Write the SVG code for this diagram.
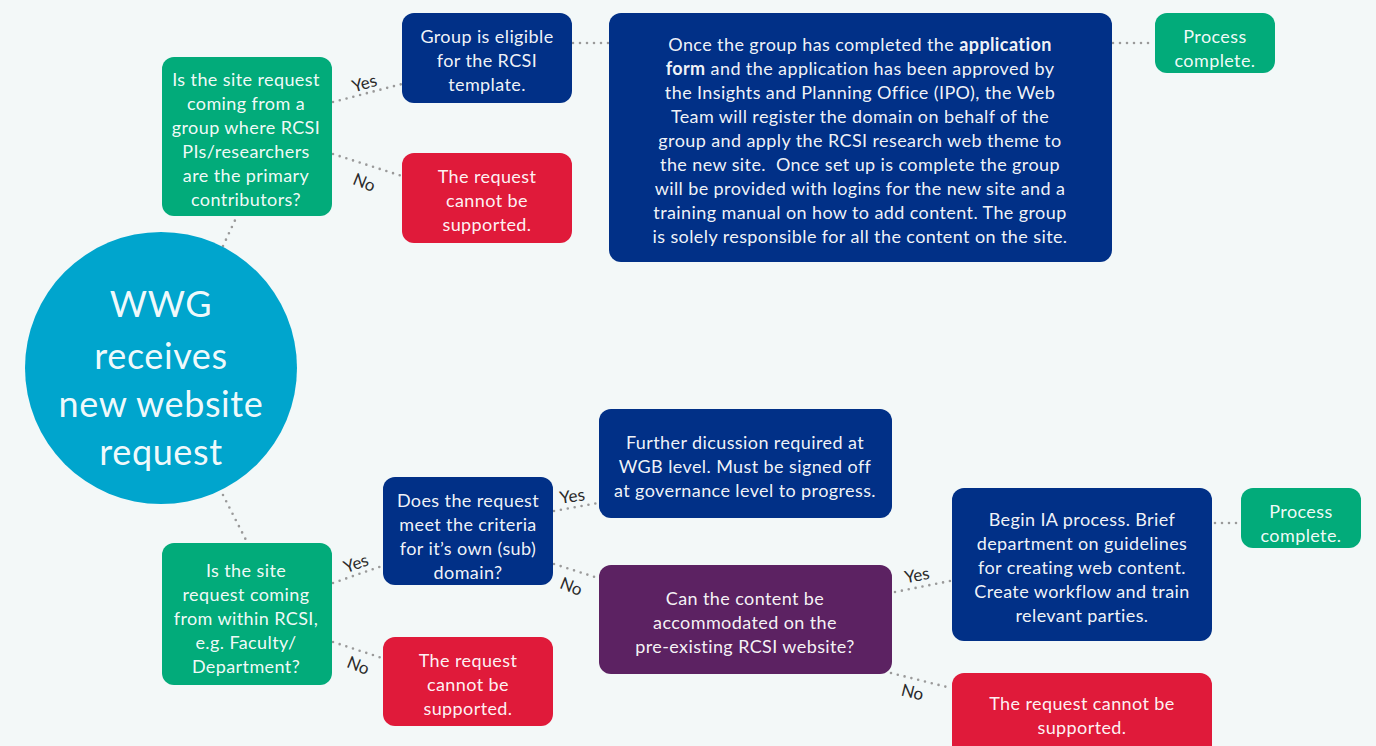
<svg xmlns="http://www.w3.org/2000/svg" width="1376" height="746" viewBox="0 0 1376 746">
<style>
.bg{fill:#f3f8f8}
.green{fill:#02ab7a}
.navy{fill:#013087}
.red{fill:#e01a3a}
.purple{fill:#5c2262}
.circ{fill:#00a5cd}
text{font-family:Lato,"Open Sans","Liberation Sans",sans-serif;fill:#ffffff;fill-opacity:0.96;text-anchor:middle;font-size:18px;letter-spacing:0.4px}
.big{font-size:36px;letter-spacing:0.6px}
.lbl{fill:#2a2a2a;font-size:17px;fill-opacity:1;letter-spacing:0}
.con{stroke:#9a9a9a;stroke-width:2.6;stroke-linecap:round;stroke-dasharray:0 7;fill:none}
</style>
<rect class="bg" x="0" y="0" width="1376" height="746"/>
<g id="connectors">
<path class="con" d="M223,246 L237,216"/>
<path class="con" d="M223,495 L247,542"/>
<path class="con" d="M333,102 L402,84"/>
<path class="con" d="M333,154 L402,176"/>
<path class="con" d="M573,43 L609,43"/>
<path class="con" d="M1113,43 L1155,43"/>
<path class="con" d="M333,583 L382,566"/>
<path class="con" d="M333,642 L382,658"/>
<path class="con" d="M554,511 L598,503"/>
<path class="con" d="M554,564 L598,578"/>
<path class="con" d="M895,592 L950,581"/>
<path class="con" d="M891,673 L951,688"/>
<path class="con" d="M1215,523 L1241,523"/>
<text class="lbl" transform="translate(366,89) rotate(-16)">Yes</text>
<text class="lbl" transform="translate(362,188) rotate(22)">No</text>
<text class="lbl" transform="translate(358,569) rotate(-20)">Yes</text>
<text class="lbl" transform="translate(356,671) rotate(22)">No</text>
<text class="lbl" transform="translate(573,502) rotate(-8)">Yes</text>
<text class="lbl" transform="translate(569,592) rotate(22)">No</text>
<text class="lbl" transform="translate(918,581) rotate(-10)">Yes</text>
<text class="lbl" transform="translate(911,698) rotate(14)">No</text>
</g>
<g id="start">
<circle class="circ" cx="161" cy="368" r="136"/>
<text class="big" x="161" y="317">WWG</text>
<text class="big" x="161" y="369">receives</text>
<text class="big" x="161" y="417">new website</text>
<text class="big" x="161" y="465">request</text>
</g>
<g id="q-researchers">
<rect class="green" x="162" y="57" width="170" height="159" rx="12"/>
<text x="246" y="86">Is the site request</text>
<text x="246" y="110">coming from a</text>
<text x="246" y="134">group where RCSI</text>
<text x="246" y="158">PIs/researchers</text>
<text x="246" y="182">are the primary</text>
<text x="246" y="206">contributors?</text>
</g>
<g id="eligible">
<rect class="navy" x="402" y="13" width="170" height="90" rx="12"/>
<text x="487" y="43">Group is eligible</text>
<text x="487" y="67">for the RCSI</text>
<text x="487" y="91">template.</text>
</g>
<g id="not-supported-1">
<rect class="red" x="402" y="153" width="170" height="90" rx="12"/>
<text x="487" y="183">The request</text>
<text x="487" y="207">cannot be</text>
<text x="487" y="231">supported.</text>
</g>
<g id="application">
<rect class="navy" x="609" y="13" width="503" height="249" rx="12"/>
<text x="860" y="51">Once the group has completed the <tspan font-weight="bold">application</tspan></text>
<text x="860" y="75"><tspan font-weight="bold">form</tspan> and the application has been approved by</text>
<text x="860" y="99">the Insights and Planning Office (IPO), the Web</text>
<text x="860" y="123">Team will register the domain on behalf of the</text>
<text x="860" y="147">group and apply the RCSI research web theme to</text>
<text x="860" y="171" xml:space="preserve">the new site.  Once set up is complete the group</text>
<text x="860" y="195">will be provided with logins for the new site and a</text>
<text x="860" y="219">training manual on how to add content. The group</text>
<text x="860" y="243">is solely responsible for all the content on the site.</text>
</g>
<g id="complete-1">
<rect class="green" x="1155" y="13" width="120" height="60" rx="12"/>
<text x="1215" y="43">Process</text>
<text x="1215" y="67">complete.</text>
</g>
<g id="q-within">
<rect class="green" x="162" y="543" width="170" height="142" rx="12"/>
<text x="246" y="577">Is the site</text>
<text x="246" y="601">request coming</text>
<text x="246" y="625">from within RCSI,</text>
<text x="246" y="649">e.g. Faculty/</text>
<text x="246" y="673">Department?</text>
</g>
<g id="q-domain">
<rect class="navy" x="383" y="477" width="170" height="108" rx="12"/>
<text x="468" y="507">Does the request</text>
<text x="468" y="531">meet the criteria</text>
<text x="468" y="555">for it’s own (sub)</text>
<text x="468" y="579">domain?</text>
</g>
<g id="not-supported-2">
<rect class="red" x="383" y="637" width="170" height="89" rx="12"/>
<text x="468" y="667">The request</text>
<text x="468" y="691">cannot be</text>
<text x="468" y="715">supported.</text>
</g>
<g id="further">
<rect class="navy" x="599" y="409" width="293" height="109" rx="12"/>
<text x="745" y="449">Further dicussion required at</text>
<text x="745" y="473">WGB level. Must be signed off</text>
<text x="745" y="497">at governance level to progress.</text>
</g>
<g id="q-content">
<rect class="purple" x="599" y="565" width="293" height="109" rx="12"/>
<text x="745" y="605">Can the content be</text>
<text x="745" y="629">accommodated on the</text>
<text x="745" y="653">pre-existing RCSI website?</text>
</g>
<g id="ia-process">
<rect class="navy" x="952" y="488" width="260" height="153" rx="12"/>
<text x="1082" y="526">Begin IA process. Brief</text>
<text x="1082" y="550">department on guidelines</text>
<text x="1082" y="574">for creating web content.</text>
<text x="1082" y="598">Create workflow and train</text>
<text x="1082" y="622">relevant parties.</text>
</g>
<g id="complete-2">
<rect class="green" x="1241" y="488" width="120" height="60" rx="12"/>
<text x="1301" y="518">Process</text>
<text x="1301" y="542">complete.</text>
</g>
<g id="not-supported-3">
<rect class="red" x="952" y="673" width="260" height="90" rx="12"/>
<text x="1082" y="710">The request cannot be</text>
<text x="1082" y="734">supported.</text>
</g>
</svg>
